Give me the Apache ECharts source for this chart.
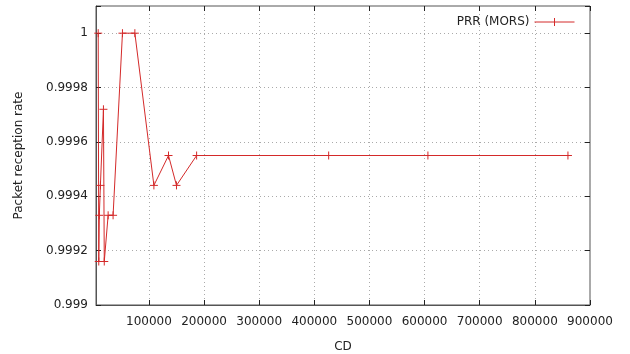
<!DOCTYPE html>
<html>
<head>
<meta charset="utf-8">
<script src="https://cdn.jsdelivr.net/npm/echarts@6/dist/echarts.min.js"></script>
<style>
html,body{margin:0;padding:0;background:#fff;}
#c{width:630px;height:354px;}
</style>
</head>
<body>
<div id="c"></div>
<script>
// Data
const cdValues = [8000, 9000, 10000, 12000, 17500, 19000, 26000, 35000, 52000, 74500, 109000, 135500, 150000, 186500, 426000, 606000, 860000];
const prrValues = [1.0, 0.99916, 0.99933, 0.99944, 0.99972, 0.99916, 0.99933, 0.99933, 1.0, 1.0, 0.99944, 0.99955, 0.99944, 0.99955, 0.99955, 0.99955, 0.99955];
const xTickValues = [100000, 200000, 300000, 400000, 500000, 600000, 700000, 800000, 900000];
const seriesName = 'PRR (MORS)';

const RED = '#d42a2a';
const FONT = 'DejaVu Sans';
const chart = echarts.init(document.getElementById('c'), null, {renderer: 'canvas'});

const fmtY = v => (v > 1.00005 ? '' : String(parseFloat(v.toFixed(4))));

chart.setOption({
  animation: false,
  backgroundColor: '#fff',
  textStyle: {fontFamily: FONT},
  grid: {left: 96, right: 40, top: 6, bottom: 49, show: true, borderColor: '#555', borderWidth: 1, outerBoundsMode: 'none', containLabel: false},
  legend: {
    right: 50, top: 11, align: 'right', itemWidth: 40, itemHeight: 8, itemGap: 7,
    icon: 'path://M0,4L40,4M20,0L20,8',
    itemStyle: {color: RED, borderColor: RED, borderWidth: 1},
    textStyle: {fontFamily: FONT, fontSize: 12, color: '#222'},
    data: [seriesName]
  },
  xAxis: [{
    type: 'value', min: 4000, max: 900000,
    name: 'CD', nameLocation: 'middle', nameGap: 36,
    nameTextStyle: {fontFamily: FONT, fontSize: 12, color: '#222'},
    axisLine: {show: true, lineStyle: {color: '#555'}},
    axisTick: {show: true, inside: true, length: 5, customValues: xTickValues, lineStyle: {color: '#222'}},
    axisLabel: {customValues: xTickValues, formatter: v => String(v), margin: 11, fontFamily: FONT, fontSize: 12, color: '#222'},
    splitLine: {show: true, lineStyle: {color: '#aaa', type: [1, 3]}}
  }, {
    type: 'value', min: 4000, max: 900000, position: 'top',
    axisLine: {show: false},
    axisTick: {show: true, inside: true, length: 5, customValues: xTickValues, lineStyle: {color: '#222'}},
    axisLabel: {show: false}, splitLine: {show: false}
  }],
  yAxis: [{
    type: 'value', min: 0.999, max: 1.0001, interval: 0.0002,
    name: 'Packet reception rate', nameLocation: 'middle', nameRotate: 90, nameGap: 71,
    nameTextStyle: {fontFamily: FONT, fontSize: 12, color: '#222'},
    axisLine: {show: true, lineStyle: {color: '#555'}},
    axisTick: {show: true, inside: true, length: 5, lineStyle: {color: '#222'}},
    axisLabel: {formatter: fmtY, margin: 8, fontFamily: FONT, fontSize: 12, color: '#222'},
    splitLine: {show: true, lineStyle: {color: '#aaa', type: [1, 3]}}
  }, {
    type: 'value', min: 0.999, max: 1.0001, interval: 0.0002, position: 'right',
    axisLine: {show: false},
    axisTick: {show: true, inside: true, length: 5, lineStyle: {color: '#222'}},
    axisLabel: {show: false}, splitLine: {show: false}
  }],
  series: [{
    name: seriesName,
    type: 'line',
    data: cdValues.map((x, i) => [x, prrValues[i]]),
    symbol: 'path://M0,5L10,5M5,0L5,10',
    symbolSize: 8,
    showAllSymbol: true,
    lineStyle: {color: RED, width: 1},
    itemStyle: {color: RED, borderColor: RED, borderWidth: 1}
  }]
});
</script>
</body>
</html>
